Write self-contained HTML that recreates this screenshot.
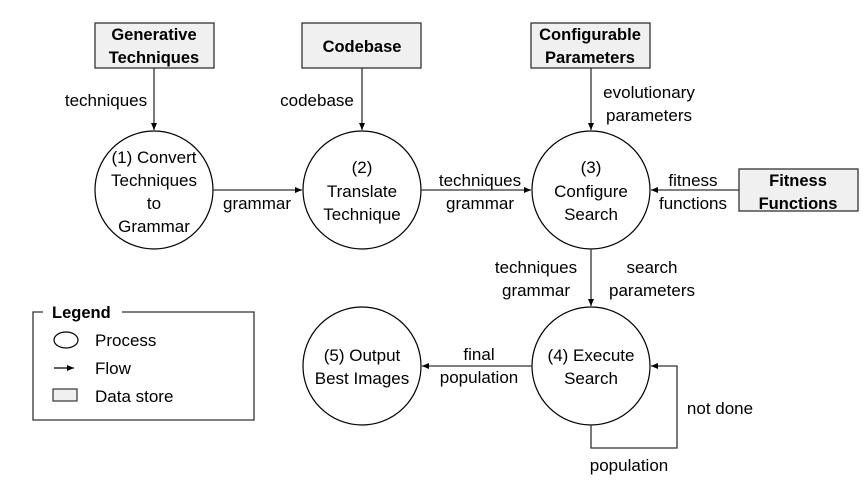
<!DOCTYPE html>
<html><head><meta charset="utf-8"><style>
html,body{margin:0;padding:0;background:#fff;}
svg text{font-family:"Liberation Sans",sans-serif;font-size:17px;fill:#000;}
.b{font-weight:bold;font-size:16.5px;}
</style></head><body>
<svg width="865" height="487" viewBox="0 0 865 487" xmlns="http://www.w3.org/2000/svg">
<defs><marker id="a" markerWidth="8" markerHeight="8" refX="7" refY="4" orient="auto" markerUnits="userSpaceOnUse"><path d="M0,1 L7,4 L0,7 z" fill="#000"/></marker></defs>
<g fill="#f0f0f0" stroke="#333" stroke-width="1.3">
<rect x="95" y="23" width="119" height="45"/>
<rect x="302" y="23" width="119" height="45"/>
<rect x="531" y="23" width="119" height="45"/>
<rect x="739" y="169" width="119" height="42"/>
</g>
<g fill="none" stroke="#000" stroke-width="1.2">
<circle cx="154" cy="190" r="59"/>
<circle cx="362" cy="190" r="59"/>
<circle cx="591" cy="190" r="59"/>
<circle cx="591" cy="366" r="59"/>
<circle cx="362" cy="366" r="59"/>
</g>
<g stroke="#333" stroke-width="1.3" fill="none" marker-end="url(#a)">
<line x1="154" y1="68" x2="154" y2="130"/>
<line x1="362" y1="68" x2="362" y2="130"/>
<line x1="591" y1="68" x2="591" y2="130"/>
<line x1="213" y1="190" x2="302" y2="190"/>
<line x1="421" y1="190" x2="531" y2="190"/>
<line x1="739" y1="190" x2="651" y2="190"/>
<line x1="591" y1="249" x2="591" y2="306"/>
<line x1="532" y1="366" x2="422" y2="366"/>
<polyline points="591,425 591,448 677,448 677,366 651,366"/>
</g>
<g text-anchor="middle">
<text class="b" x="154" y="40">Generative</text>
<text class="b" x="154" y="63">Techniques</text>
<text class="b" x="362" y="52">Codebase</text>
<text class="b" x="590" y="40">Configurable</text>
<text class="b" x="590" y="63">Parameters</text>
<text class="b" x="798" y="186">Fitness</text>
<text class="b" x="798" y="209">Functions</text>
<text x="154" y="163">(1) Convert</text>
<text x="154" y="186">Techniques</text>
<text x="154" y="209">to</text>
<text x="154" y="232">Grammar</text>
<text x="362" y="173">(2)</text>
<text x="362" y="197">Translate</text>
<text x="362" y="220">Technique</text>
<text x="591" y="173">(3)</text>
<text x="591" y="197">Configure</text>
<text x="591" y="220">Search</text>
<text x="591" y="361">(4) Execute</text>
<text x="591" y="384">Search</text>
<text x="362" y="361">(5) Output</text>
<text x="362" y="384">Best Images</text>
<text x="106" y="106">techniques</text>
<text x="317" y="106">codebase</text>
<text x="649" y="98">evolutionary</text>
<text x="649" y="121">parameters</text>
<text x="257" y="209">grammar</text>
<text x="480" y="186">techniques</text>
<text x="480" y="209">grammar</text>
<text x="693" y="186">fitness</text>
<text x="693" y="209">functions</text>
<text x="536" y="273">techniques</text>
<text x="536" y="296">grammar</text>
<text x="652" y="273">search</text>
<text x="652" y="296">parameters</text>
<text x="479" y="360">final</text>
<text x="479" y="383">population</text>
<text x="720" y="414">not done</text>
<text x="629" y="471">population</text>
</g>
<polyline points="43,312 33,312 33,420 254,420 254,312 122,312" fill="none" stroke="#333" stroke-width="1.3"/>
<text class="b" x="52" y="318">Legend</text>
<ellipse cx="66" cy="340" rx="12" ry="8" fill="none" stroke="#000" stroke-width="1.2"/>
<line x1="54" y1="368" x2="74" y2="368" stroke="#000" stroke-width="1.2" marker-end="url(#a)"/>
<rect x="53" y="389" width="24" height="12" fill="#f0f0f0" stroke="#333" stroke-width="1.2"/>
<text x="95" y="346">Process</text>
<text x="95" y="374">Flow</text>
<text x="95" y="402">Data store</text>
</svg>
</body></html>
